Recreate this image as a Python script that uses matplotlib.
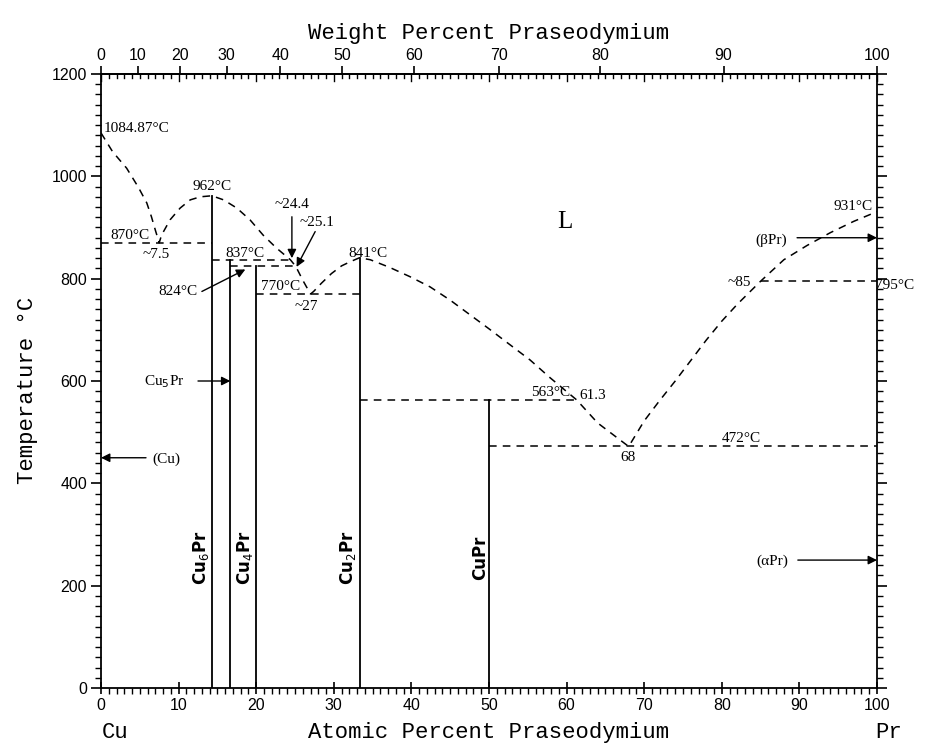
import numpy as np
import matplotlib.pyplot as plt
from matplotlib.ticker import MultipleLocator

plt.rcParams['font.family'] = ['Liberation Serif', 'DejaVu Sans']

# molar masses for the atomic -> weight percent scale
M_CU = 63.546
M_PR = 140.908

# liquidus (atomic % Pr, temperature in C)
liquidus_x = [0, 1.5, 3.3, 4.8, 5.9, 6.5, 7.0, 7.5,
              7.8, 8.9, 10.2, 11.5, 12.8, 14.29,
              15.8, 17.5, 19.2, 20.9, 22.6, 24.4,
              25.1, 26.0, 26.7, 27.0,
              27.4, 28.4, 29.7, 31.0, 32.1, 33.33,
              34.7, 37.2, 39.8, 42.4, 45.0, 50.0, 55.3, 57.9, 61.3, 64.0, 68.0,
              70.0, 72.0, 74.0, 76.0, 78.0, 80.0, 82.0, 85.0, 88.0, 91.0, 94.0, 97.0, 100]
liquidus_t = [1084.87, 1048, 1016, 979, 948, 921, 895, 870,
              885, 915, 938, 954, 960, 962,
              954, 938, 915, 885, 860, 837,
              824, 797, 778, 770,
              775, 791, 810, 825, 833, 841,
              837, 822, 804, 784, 758, 702, 641, 606, 563, 518, 472,
              522, 562, 600, 640, 680, 717, 750, 795, 837, 865, 890, 912, 931]

# intermediate compounds
compound_names = ['Cu$_6$Pr', 'Cu$_5$Pr', 'Cu$_4$Pr', 'Cu$_2$Pr', 'CuPr']
compound_x = [14.29, 16.67, 20.0, 33.33, 50.0]
compound_top = [962, 837, 824, 841, 563]

# invariant reactions
inv_t = [870, 837, 824, 770, 563, 472, 795]
inv_x0 = [0, 14.29, 16.67, 20.0, 33.33, 50.0, 85.0]
inv_x1 = [14.29, 24.4, 25.1, 33.33, 61.3, 100, 100]


def at2wt(a):
    a = np.asarray(a, dtype=float)
    m = a * M_PR
    with np.errstate(divide='ignore', invalid='ignore'):
        return 100 * m / (m + (100 - a) * M_CU)


def wt2at(w):
    w = np.asarray(w, dtype=float)
    n = w / M_PR
    with np.errstate(divide='ignore', invalid='ignore'):
        return 100 * n / (n + (100 - w) / M_CU)


fig = plt.figure(figsize=(9.28, 7.44), dpi=100)
ax = fig.add_axes([101 / 928, 1 - 688 / 744, 776 / 928, 614 / 744])

dash = (0, (5, 4))
ax.plot(liquidus_x, liquidus_t, color='k', lw=1.1, linestyle=dash)
for t, x0, x1 in zip(inv_t, inv_x0, inv_x1):
    ax.plot([x0, x1], [t, t], color='k', lw=1.1, linestyle=dash)
for x, top in zip(compound_x, compound_top):
    ax.plot([x, x], [0, top], color='k', lw=1.3)

ax.set_xlim(0, 100)
ax.set_ylim(0, 1200)
ax.set_xticks(range(0, 101, 10))
ax.xaxis.set_minor_locator(MultipleLocator(1))
ax.set_yticks(range(0, 1201, 200))
ax.yaxis.set_minor_locator(MultipleLocator(20))
# left / right ticks point outward, bottom ticks cross the spine,
# the atomic % ticks repeated along the top point inward
ax.tick_params(axis='y', which='major', direction='out', length=7, width=1.2,
               labelsize=11.5, right=True, pad=3)
ax.tick_params(axis='y', which='minor', direction='out', length=4, width=1, right=True)
ax.tick_params(axis='x', which='major', direction='inout', length=9, width=1.2,
               labelsize=11.5, top=True, pad=3)
ax.tick_params(axis='x', which='minor', direction='out', length=4, width=1, top=True)
for lab in ax.get_xticklabels() + ax.get_yticklabels():
    lab.set_fontfamily('Liberation Sans')
for s in ax.spines.values():
    s.set_linewidth(1.3)

sec = ax.secondary_xaxis('top', functions=(at2wt, wt2at))
sec.set_xticks(range(0, 101, 10))
sec.tick_params(which='major', direction='out', length=6, width=1.2, labelsize=11.5, pad=2)
sec.tick_params(which='minor', length=0)
for lab in sec.get_xticklabels():
    lab.set_fontfamily('Liberation Sans')
sec.spines['top'].set_linewidth(1.3)

# the inward ticks on the top spine drawn as short segments in axes coords
top_tr = ax.get_xaxis_transform()
for x in range(0, 101):
    h = 0.011 if x % 10 == 0 else 0.006
    ax.plot([x, x], [1, 1 - h], color='k', lw=1.0, transform=top_tr, clip_on=False)
ax.tick_params(axis='x', which='both', top=False)

mono = dict(fontfamily='Liberation Mono', fontsize=16)
fig.text(489 / 928, 1 - 39 / 744, 'Weight Percent Praseodymium', ha='center', va='baseline', **mono)
fig.text(489 / 928, 1 - 738 / 744, 'Atomic Percent Praseodymium', ha='center', va='baseline', **mono)
fig.text(102 / 928, 1 - 738 / 744, 'Cu', ha='left', va='baseline', **mono)
fig.text(875 / 928, 1 - 738 / 744, 'Pr', ha='left', va='baseline', **mono)
fig.text(28 / 928, 1 - 390 / 744, 'Temperature °C', ha='center', va='center', rotation=90, **mono)

fs = 11
labels = [
    (0.3, 1093, '1084.87°C', 'left'),
    (14.3, 980, '962°C', 'center'),
    (3.7, 884, '870°C', 'center'),
    (7.1, 848, '~7.5', 'center'),
    (18.6, 849, '837°C', 'center'),
    (9.9, 774, '824°C', 'center'),
    (24.6, 944, '~24.4', 'center'),
    (27.8, 909, '~25.1', 'center'),
    (23.1, 784, '770°C', 'center'),
    (26.4, 745, '~27', 'center'),
    (34.4, 850, '841°C', 'center'),
    (96.9, 942, '931°C', 'center'),
    (86.3, 875, '(βPr)', 'center'),
    (82.3, 793, '~85', 'center'),
    (99.7, 787, '795°C', 'left'),
    (57.9, 577, '563°C', 'center'),
    (63.4, 571, '61.3', 'center'),
    (82.5, 488, '472°C', 'center'),
    (67.9, 451, '68', 'center'),
    (8.2, 598, 'Cu$_5$Pr', 'center'),
    (8.4, 447, '(Cu)', 'center'),
    (86.5, 248, '(αPr)', 'center'),
]
for x, y, s, ha in labels:
    ax.text(x, y, s, ha=ha, va='center', fontsize=fs)

ax.text(59.8, 911, 'L', ha='center', va='center', fontsize=18)

# phase labels written along the compound lines
for x, name in zip([12.9, 18.6, 31.8, 48.8], ['Cu$_6$Pr', 'Cu$_4$Pr', 'Cu$_2$Pr', 'CuPr']):
    ax.text(x, 254, name, ha='center', va='center', rotation=90,
            fontsize=12, fontweight='bold', fontfamily='DejaVu Sans')

arrows = [
    ((13.0, 775), (18.6, 818)),
    ((24.6, 921), (24.6, 840)),
    ((27.6, 892), (25.2, 823)),
    ((89.7, 880), (100, 880)),
    ((12.5, 600), (16.67, 600)),
    ((5.8, 450), (0, 450)),
    ((89.8, 250), (100, 250)),
]
for tail, head in arrows:
    ax.annotate('', xy=head, xytext=tail,
                arrowprops=dict(arrowstyle='-|>', color='k', lw=1.0,
                                mutation_scale=13, shrinkA=0, shrinkB=0))

fig.savefig('out.png', dpi=100)
